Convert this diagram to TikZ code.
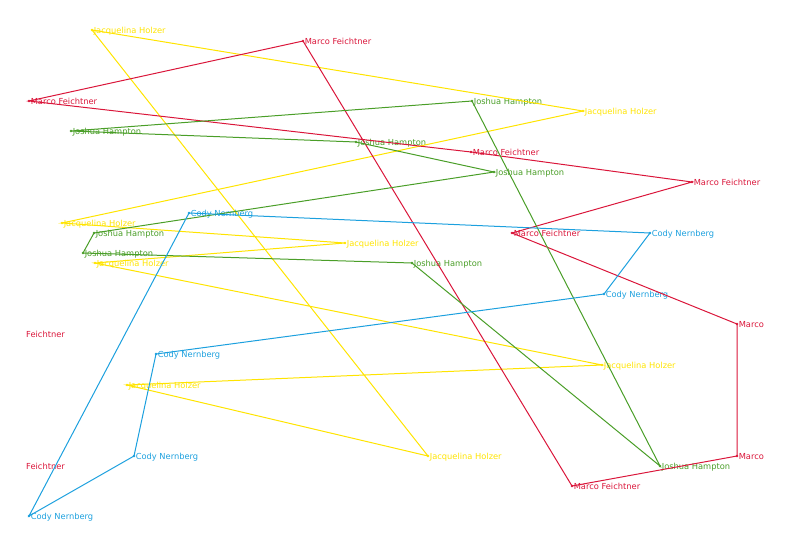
\documentclass[tikz,border=0pt]{standalone}
\usepackage{fontspec}
\setmainfont{DejaVu Sans}
\definecolor{cred}{RGB}{218,22,58}
\definecolor{cyel}{RGB}{255,228,0}
\definecolor{cgrn}{RGB}{74,158,40}
\definecolor{cblu}{RGB}{28,160,222}
\tikzset{
  dot/.style={circle,fill,inner sep=0pt,minimum size=2.8pt},
  lab/.style={inner sep=0pt,font=\fontsize{8.3}{9}\selectfont},
  edge/.style={line width=1pt},
  redc/.style={cred,text=cred},
  yelc/.style={cyel,text=cyel},
  grnc/.style={cgrn,text=cgrn},
  bluc/.style={cblu,text=cblu},
}
\newcommand{\gpt}[5]{%
  \node[dot,#4] (#1) at (#2,#3) {};
  \node[lab,#4,anchor=base west] (#1-l) at ([xshift=1.6pt,yshift=-3.3pt]#1.center) {#5};}
\begin{document}
\begin{tikzpicture}[x=1pt,y=-1pt]
\useasboundingbox (0,0) rectangle (790,558);
% yellow
\gpt{y1}{92}{30}{yelc}{Jacquelina Holzer}
\gpt{y2}{583}{111}{yelc}{Jacquelina Holzer}
\gpt{y3}{62}{223}{yelc}{Jacquelina Holzer}
\gpt{y4}{345}{243}{yelc}{Jacquelina Holzer}
\gpt{y5}{95}{263}{yelc}{Jacquelina Holzer}
\gpt{y6}{602}{365}{yelc}{Jacquelina Holzer}
\gpt{y7}{127}{385}{yelc}{Jacquelina Holzer}
\gpt{y8}{428}{456}{yelc}{Jacquelina Holzer}
% red
\gpt{r1}{303}{41}{redc}{Marco Feichtner}
\gpt{r2}{29}{101}{redc}{Marco Feichtner}
\gpt{r3}{471}{152}{redc}{Marco Feichtner}
\gpt{r4}{692}{182}{redc}{Marco Feichtner}
\gpt{r5}{512}{233}{redc}{Marco Feichtner}
\gpt{r6}{737}{324}{redc}{Marco}
\gpt{r7}{737}{456}{redc}{Marco}
\gpt{r8}{572}{486}{redc}{Marco Feichtner}
\node[lab,redc,anchor=base west] (f1) at (26,337.5) {Feichtner};
\node[lab,redc,anchor=base west] (f2) at (26,469.5) {Feichtner};
% green
\gpt{g1}{472}{101}{grnc}{Joshua Hampton}
\gpt{g2}{71}{131}{grnc}{Joshua Hampton}
\gpt{g3}{356}{142}{grnc}{Joshua Hampton}
\gpt{g4}{494}{172}{grnc}{Joshua Hampton}
\gpt{g5}{94}{233}{grnc}{Joshua Hampton}
\gpt{g6}{83}{253}{grnc}{Joshua Hampton}
\gpt{g7}{412}{263}{grnc}{Joshua Hampton}
\gpt{g8}{660}{466}{grnc}{Joshua Hampton}
% blue
\gpt{c1}{189}{213}{bluc}{Cody Nernberg}
\gpt{c2}{650}{233}{bluc}{Cody Nernberg}
\gpt{c3}{604}{294}{bluc}{Cody Nernberg}
\gpt{c4}{156}{354}{bluc}{Cody Nernberg}
\gpt{c5}{134}{456}{bluc}{Cody Nernberg}
\gpt{c6}{29}{516}{bluc}{Cody Nernberg}
% edges
\draw[edge,cyel] (y8.center) -- (y1.center) -- (y2.center) -- (y3.center) -- (y4.center) -- (y5.center) -- (y6.center) -- (y7.center) -- (y8.center);
\draw[edge,cred] (r1.center) -- (r2.center) -- (r3.center) -- (r4.center) -- (r5.center) -- (r6.center) -- (r7.center) -- (r8.center) -- (r1.center);
\draw[edge,cgrn] (g1.center) -- (g2.center) -- (g3.center) -- (g4.center) -- (g5.center) -- (g6.center) -- (g7.center) -- (g8.center) -- (g1.center);
\draw[edge,cblu] (c1.center) -- (c2.center) -- (c3.center) -- (c4.center) -- (c5.center) -- (c6.center) -- (c1.center);
\end{tikzpicture}
\end{document}
